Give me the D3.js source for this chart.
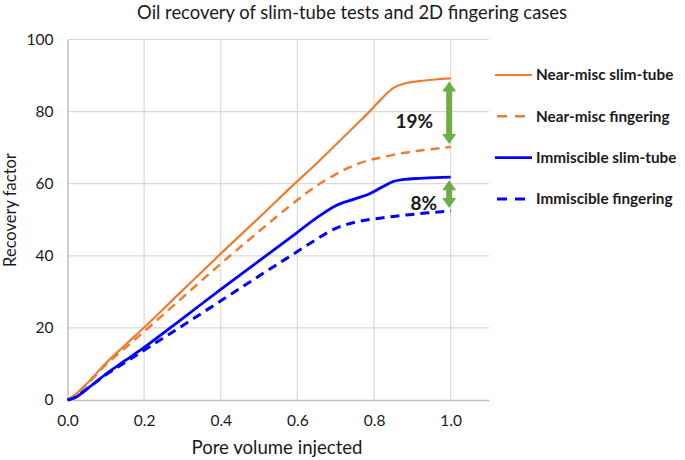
<!DOCTYPE html>
<html><head><meta charset="utf-8">
<script src="https://cdn.jsdelivr.net/npm/d3@7"></script>
<style>
body{margin:0;background:#fff;}
text{font-family:Lato,"Open Sans",sans-serif;fill:#1a1a1a;}
</style></head>
<body><svg id="c" width="685" height="460"></svg>
<script>
// ---- data ----
const title = "Oil recovery of slim-tube tests and 2D fingering cases";
const xLabel = "Pore volume injected";
const yLabel = "Recovery factor";
const xTicks = [0, 0.2, 0.4, 0.6, 0.8, 1.0];
const yTicks = [0, 20, 40, 60, 80, 100];
const seriesNames = ["Near-misc slim-tube", "Near-misc fingering", "Immiscible slim-tube", "Immiscible fingering"];
const pv = [0, 0.02, 0.05, 0.1, 0.15, 0.2, 0.3, 0.4, 0.5, 0.6, 0.65, 0.7, 0.75, 0.79, 0.82, 0.85, 0.88, 0.92, 0.96, 1.0];
const nearMiscSlim   = [0, 1.5, 4.5, 10.2, 15.2, 20.1, 30.4, 40.6, 50.6, 60.7, 65.6, 70.8, 76.0, 80.2, 83.6, 86.5, 87.8, 88.5, 88.9, 89.2];
const nearMiscFinger = [0, 1.4, 4.2, 9.8, 14.4, 19.0, 28.4, 37.8, 46.8, 55.5, 59.4, 62.6, 65.2, 66.6, 67.3, 68.0, 68.6, 69.2, 69.7, 70.2];
const immSlim        = [0, 0.7, 3.0, 7.2, 10.9, 14.6, 22.6, 30.7, 38.6, 46.5, 50.5, 53.9, 55.8, 57.3, 59.0, 60.6, 61.2, 61.5, 61.7, 61.8];
const immFinger      = [0, 0.7, 3.0, 7.0, 10.4, 13.8, 20.6, 27.5, 34.4, 41.2, 44.6, 47.6, 49.3, 50.1, 50.5, 50.9, 51.3, 51.7, 52.1, 52.4];
const gaps = ["19%", "8%"];

// ---- chart ----
const svg = d3.select("#c");
const x = d3.scaleLinear().domain([0, 1.1]).range([67.5, 489]);
const y = d3.scaleLinear().domain([0, 100]).range([400, 39.5]);
const orange = "#ED7D31", blue = "#0000FF", green = "#70AD47";

// grid
svg.append("g").selectAll("line").data(yTicks.slice(1)).join("line")
  .attr("x1", x(0)).attr("x2", x(1.1)).attr("y1", d => y(d)).attr("y2", d => y(d))
  .attr("stroke", "#d9d9d9").attr("stroke-width", 1.2);
svg.append("g").selectAll("line").data(xTicks.slice(1)).join("line")
  .attr("x1", d => x(d)).attr("x2", d => x(d)).attr("y1", y(0)).attr("y2", y(100))
  .attr("stroke", "#d9d9d9").attr("stroke-width", 1.2);

// axes
const xAxis = svg.append("g").attr("transform", `translate(0,${y(0)})`)
  .call(d3.axisBottom(x).tickValues(xTicks).tickFormat(d3.format(".1f")).tickSize(0).tickPadding(15));
const yAxis = svg.append("g").attr("transform", `translate(${x(0)},0)`)
  .call(d3.axisLeft(y).tickValues(yTicks).tickSize(0).tickPadding(14));
[xAxis, yAxis].forEach(a => {
  a.select(".domain").attr("stroke", "#bfbfbf").attr("stroke-width", 1.5);
  a.selectAll("text").attr("font-family", "Lato").attr("font-size", 15.5).attr("fill", "#1a1a1a");
});

// titles
svg.append("text").attr("x", 352).attr("y", 19).attr("text-anchor", "middle")
  .attr("font-size", 18.4).text(title);
svg.append("text").attr("x", 277).attr("y", 454).attr("text-anchor", "middle")
  .attr("font-size", 18.6).text(xLabel);
svg.append("text").attr("transform", "translate(16,210) rotate(-90)").attr("text-anchor", "middle")
  .attr("font-size", 16.5).text(yLabel);

// series
const series = [
  {name: seriesNames[0], vals: nearMiscSlim,   color: orange, dash: null,  w: 2.2},
  {name: seriesNames[1], vals: nearMiscFinger, color: orange, dash: "9,6", w: 2.5},
  {name: seriesNames[2], vals: immSlim,        color: blue,   dash: null,  w: 2.8},
  {name: seriesNames[3], vals: immFinger,      color: blue,   dash: "9,6", w: 3}
];
const line = d3.line().x(d => x(d[0])).y(d => y(d[1])).curve(d3.curveMonotoneX);
series.forEach(s => {
  svg.append("path").datum(pv.map((p, i) => [p, s.vals[i]]))
    .attr("d", line).attr("fill", "none").attr("stroke", s.color)
    .attr("stroke-width", s.w).attr("stroke-dasharray", s.dash);
});

// arrows
function arrow(top, bot) {
  const ax = x(1.0) - 1.5, y1 = y(top) + 3, y2 = y(bot) - 3, hl = 10, hw = 7, sw = 3;
  const p = [[ax, y1], [ax + hw, y1 + hl], [ax + sw, y1 + hl], [ax + sw, y2 - hl], [ax + hw, y2 - hl],
             [ax, y2], [ax - hw, y2 - hl], [ax - sw, y2 - hl], [ax - sw, y1 + hl], [ax - hw, y1 + hl]];
  svg.append("polygon").attr("points", p.map(d => d.join(",")).join(" ")).attr("fill", green);
  return {ax, mid: (y1 + y2) / 2};
}
const a1 = arrow(nearMiscSlim[nearMiscSlim.length - 1], nearMiscFinger[nearMiscFinger.length - 1]);
const a2 = arrow(immSlim[immSlim.length - 1], immFinger[immFinger.length - 1]);
svg.append("text").attr("x", a1.ax - 16).attr("y", a1.mid + 15).attr("text-anchor", "end")
  .attr("font-size", 19).attr("font-weight", "bold").text(gaps[0]);
svg.append("text").attr("x", a2.ax - 12).attr("y", a2.mid + 16).attr("text-anchor", "end")
  .attr("font-size", 19).attr("font-weight", "bold").text(gaps[1]);

// legend
const lg = svg.append("g").attr("transform", "translate(495,75)");
series.forEach((s, i) => {
  const g = lg.append("g").attr("transform", `translate(0,${i * 41.3})`);
  g.append("line").attr("x1", s.dash ? 2 : 0).attr("x2", 37).attr("y1", 0).attr("y2", 0)
    .attr("stroke", s.color).attr("stroke-width", s.w).attr("stroke-dasharray", s.dash ? "10,8" : null);
  g.append("text").attr("x", 41).attr("y", 0).attr("dy", "0.35em")
    .attr("font-size", 15.3).attr("font-weight", "bold").text(s.name);
});
</script></body></html>
